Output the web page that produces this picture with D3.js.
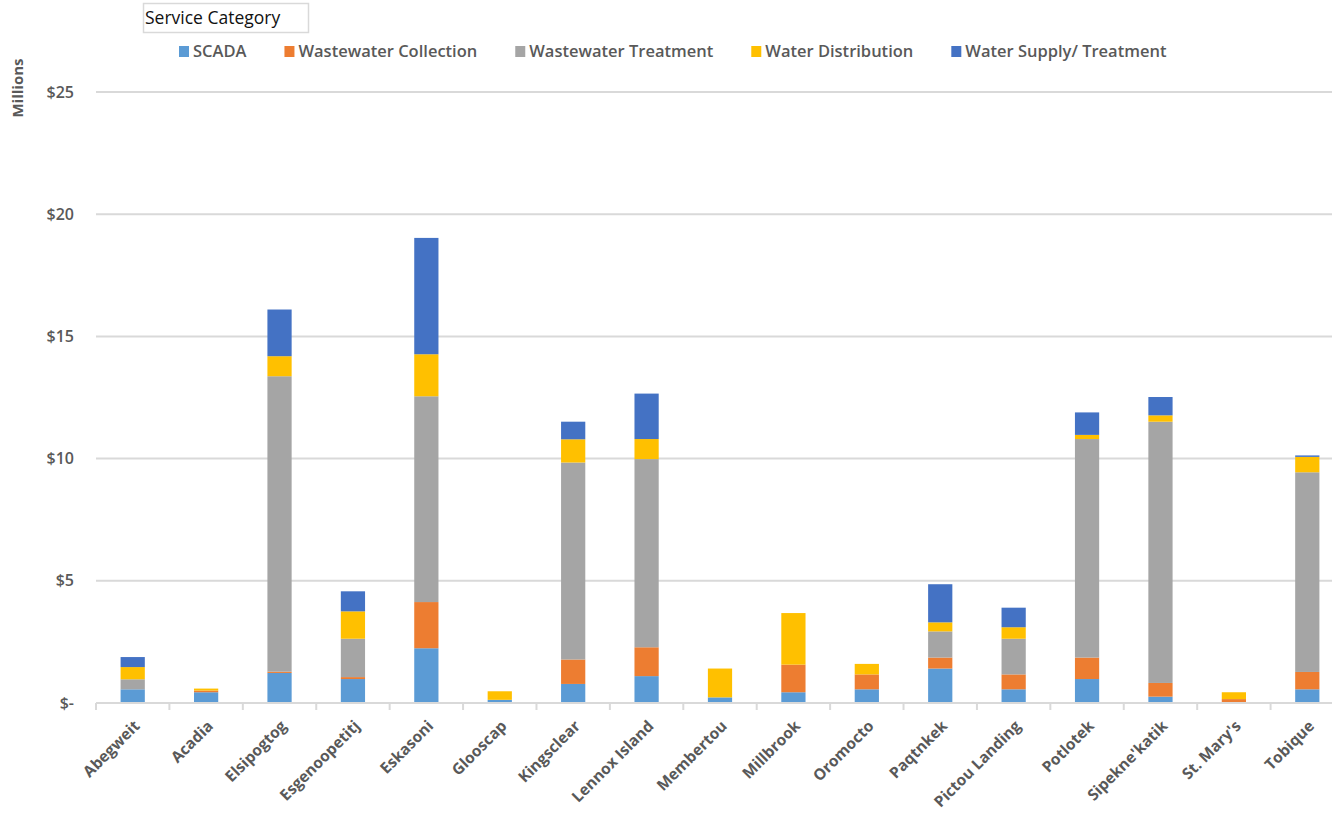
<!DOCTYPE html>
<html>
<head>
<meta charset="utf-8">
<script src="https://cdn.jsdelivr.net/npm/d3@7"></script>
<style>
  html, body { margin: 0; padding: 0; background: #fff; }
  svg { display: block; }
  text { font-family: "Open Sans", Lato, sans-serif; }
</style>
</head>
<body>
<svg id="chart" width="1332" height="813"></svg>
<script>
const categories = ["Abegweit","Acadia","Elsipogtog","Esgenoopetitj","Eskasoni","Glooscap","Kingsclear","Lennox Island","Membertou","Millbrook","Oromocto","Paqtnkek","Pictou Landing","Potlotek","Sipekne'katik","St. Mary's","Tobique"];
const seriesNames = ["SCADA","Wastewater Collection","Wastewater Treatment","Water Distribution","Water Supply/ Treatment"];
const scada = [0.56,0.44,1.23,0.98,2.24,0.13,0.78,1.10,0.23,0.44,0.56,1.41,0.56,0.98,0.26,0,0.56];
const wastewaterCollection = [0,0.07,0.05,0.08,1.89,0,1.00,1.18,0,1.13,0.61,0.45,0.61,0.88,0.56,0.16,0.71];
const wastewaterTreatment = [0.41,0,12.09,1.57,8.42,0,8.06,7.70,0,0,0,1.07,1.46,8.94,10.69,0,8.17];
const waterDistribution = [0.50,0.08,0.82,1.12,1.72,0.35,0.95,0.82,1.18,2.11,0.43,0.37,0.47,0.17,0.26,0.28,0.63];
const waterSupply = [0.41,0,1.91,0.82,4.76,0,0.72,1.86,0,0,0,1.56,0.80,0.92,0.75,0,0.06];
const yTicks = [0,5,10,15,20,25];
const colors = ["#5B9BD5","#ED7D31","#A5A5A5","#FFC000","#4472C4"];

const seriesValues = [scada, wastewaterCollection, wastewaterTreatment, waterDistribution, waterSupply];
const rows = categories.map((c, i) => {
  const r = { category: c };
  seriesNames.forEach((s, j) => r[s] = seriesValues[j][i]);
  return r;
});

const svg = d3.select("#chart");
const x = d3.scaleBand().domain(categories).range([96, 1344]).paddingInner(0.67).paddingOuter(0.335);
const y = d3.scaleLinear().domain([0, 25]).range([703, 92]);
const gridColor = "#d9d9d9";
const textColor = "#595959";

// gridlines
svg.append("g").selectAll("line").data(yTicks.filter(d => d > 0)).join("line")
  .attr("x1", 96).attr("x2", 1332)
  .attr("y1", d => y(d)).attr("y2", d => y(d))
  .attr("stroke", gridColor).attr("stroke-width", 2);

// y axis labels
svg.append("g").selectAll("text").data(yTicks).join("text")
  .attr("x", 74).attr("y", d => y(d)).attr("dy", "0.35em")
  .attr("text-anchor", "end")
  .attr("fill", textColor).attr("font-size", 16).attr("font-weight", 600)
  .text(d => d === 0 ? "$-" : "$" + d);

// y axis title
svg.append("text")
  .attr("transform", "translate(23,88) rotate(-90)")
  .attr("text-anchor", "middle")
  .attr("fill", textColor).attr("font-size", 15).attr("font-weight", 700)
  .text("Millions");

// stacked bars
const stack = d3.stack().keys(seriesNames);
const stacked = stack(rows);
svg.append("g").selectAll("g").data(stacked).join("g")
  .attr("fill", (d, i) => colors[i])
  .selectAll("rect").data(d => d).join("rect")
  .attr("x", d => x(d.data.category))
  .attr("width", x.bandwidth())
  .attr("y", d => y(d[1]))
  .attr("height", d => Math.max(0, y(d[0]) - y(d[1])));

// x axis baseline and ticks
const step = x.step();
const xAxisG = svg.append("g");
xAxisG.append("line").attr("x1", 96).attr("x2", 1332).attr("y1", y(0)).attr("y2", y(0))
  .attr("stroke", gridColor).attr("stroke-width", 2);
xAxisG.selectAll("line.tick").data(d3.range(categories.length + 1)).join("line")
  .attr("class", "tick")
  .attr("x1", i => 96 + i * step).attr("x2", i => 96 + i * step)
  .attr("y1", y(0)).attr("y2", y(0) + 7)
  .attr("stroke", gridColor).attr("stroke-width", 2);

// x labels
xAxisG.selectAll("text").data(categories).join("text")
  .attr("transform", d => `translate(${x(d) + x.bandwidth() / 2 + 8},${y(0) + 24}) rotate(-45)`)
  .attr("text-anchor", "end")
  .attr("fill", textColor).attr("font-size", 15.5).attr("font-weight", 700)
  .text(d => d);

// legend title box
const titleG = svg.append("g");
titleG.append("rect").attr("x", 143.5).attr("y", 3.5).attr("width", 165).attr("height", 29)
  .attr("fill", "#fff").attr("stroke", "#d9d9d9").attr("stroke-width", 1.5);
titleG.append("text").attr("x", 145).attr("y", 24)
  .attr("fill", "#111").attr("font-size", 17.5)
  .text("Service Category");

// legend
const leg = svg.append("g");
let lx = 179;
seriesNames.forEach((s, i) => {
  leg.append("rect").attr("x", lx).attr("y", 46).attr("width", 10).attr("height", 11).attr("fill", colors[i]);
  const t = leg.append("text").attr("x", lx + 14).attr("y", 51.5).attr("dy", "0.35em")
    .attr("fill", textColor).attr("font-size", 16.5).attr("font-weight", 600)
    .text(s);
  lx += 14 + t.node().getComputedTextLength() + 38;
});
</script>
</body>
</html>
